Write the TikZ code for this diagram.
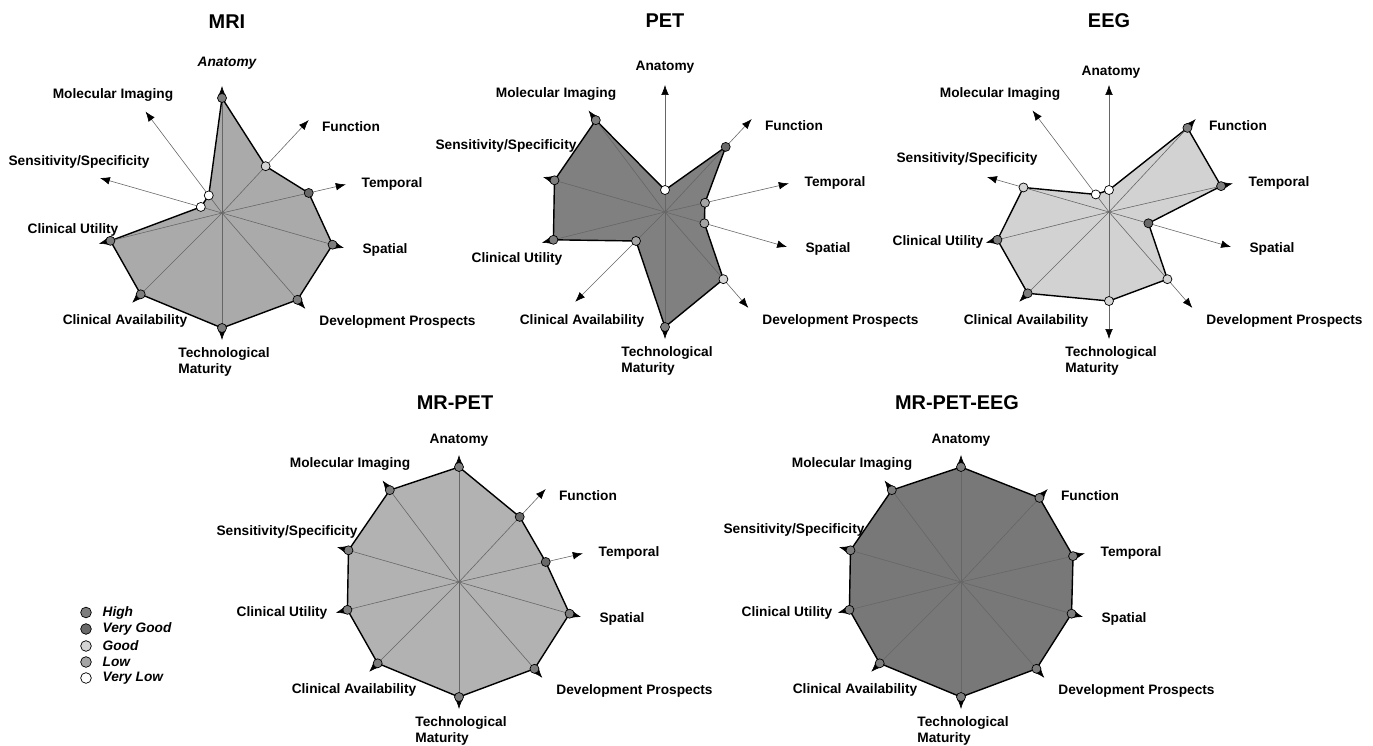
\documentclass[tikz,border=0pt]{standalone}
\usepackage{fontspec}
\setmainfont{Liberation Sans}
\usetikzlibrary{arrows.meta}
\definecolor{lvl1}{RGB}{255,255,255}
\definecolor{lvl2}{RGB}{165,165,165}
\definecolor{lvl3}{RGB}{212,212,212}
\definecolor{lvl4}{RGB}{105,105,105}
\definecolor{lvl5}{RGB}{125,125,125}
\definecolor{mrigray}{RGB}{170,170,170}
\definecolor{petgray}{RGB}{128,128,128}
\definecolor{eeggray}{RGB}{210,210,210}
\definecolor{mrpetgray}{RGB}{178,178,178}
\definecolor{hybridgray}{RGB}{120,120,120}

\begin{document}
\begin{tikzpicture}[x=0.03cm,y=0.03cm,
 lbl/.style={font=\fontsize{11.7}{14}\selectfont\bfseries},
 ttl/.style={font=\fontsize{17}{20}\selectfont\bfseries},
 axis/.style={black!60,line width=.5pt,-{Latex[length=8.5pt,width=6.5pt,color=black]}},
 poly/.style={draw=black,line width=1.2pt,line join=round},
 dot/.style={circle,draw=black,line width=.6pt,inner sep=0pt,minimum size=2.7mm}]
\useasboundingbox (0,0) rectangle (1373,745);
% charts: name/centre/fill/{radius level/dot level}, axes from Anatomy clockwise
\foreach \nm/\cx/\cy/\fc/\vals in {%
 mri/222/532/mrigray/{5/5,3/3,4/4,5/5,5/5,5/5,5/5,5/5,1/1,1/1},%
 pet/665/533/petgray/{1/1,4/4,2/2,2/2,4/3,5/5,2/2,5/5,5/5,5/5},%
 eeg/1109/533/eeggray/{1/1,5/5,5/5,2/4,4/3,4/3,5/5,5/5,4/3,1/1},%
 mrpet/459/163/mrpetgray/{5/5,4/4,4/4,5/5,5/5,5/5,5/5,5/5,5/5,5/5},%
 mrpeteeg/961/163/hybridgray/{5/5,5/5,5/5,5/5,5/5,5/5,5/5,5/5,5/5,5/5}}{
\begin{scope}[shift={(\cx,\cy)}]
\coordinate (\nm-c) at (0,0);
\foreach \v/\m [count=\i] in \vals {
 \pgfmathsetmacro\ang{{90,47,13,-16,-49,-90,-135,194,164,127}[\i-1]}
 \pgfmathsetmacro\rad{{0,22,41,64,89,115}[\v]}
 \coordinate (\nm-t\i) at (\ang:127);
 \coordinate (\nm-v\i) at (\ang:\rad);}
\filldraw[poly,fill=\fc] (\nm-v1) \foreach \i in {2,...,10}{--(\nm-v\i)} --cycle;
\foreach \i in {1,...,10} \draw[axis] (\nm-c)--(\nm-t\i);
\foreach \v/\m [count=\i] in \vals \node[dot,fill=lvl\m] (\nm-p\i) at (\nm-v\i) {};
\foreach \k/\dx/\dy/\txt in {fun/129/86/Function,tem/170/29.5/Temporal,spa/163/-37/Spatial,%
 dev/175.5/-108.5/Development Prospects,mol/-109/118/Molecular Imaging}
 \node[lbl] (\nm-\k) at (\dx,\dy) {\txt};
\node[lbl,align=left] (\nm-tec) at (2,-149) {Technological\\Maturity};
\end{scope}}
% titles and the labels that sit differently in each chart
\node[ttl] (mri-title) at (227,723) {MRI};
\node[lbl,font=\fontsize{11.7}{14}\selectfont\bfseries\itshape] (mri-ana) at (227,682) {Anatomy};
\node[lbl] (mri-sen) at (79,583) {Sensitivity/Specificity};
\node[lbl] (mri-cut) at (73,515) {Clinical Utility};
\node[lbl] (mri-cav) at (125,424) {Clinical Availability};
\node[ttl] (pet-title) at (665,724) {PET};
\node[lbl] (pet-ana) at (665,678) {Anatomy};
\node[lbl] (pet-sen) at (506,599) {Sensitivity/Specificity};
\node[lbl] (pet-cut) at (517,486) {Clinical Utility};
\node[lbl] (pet-cav) at (582,424) {Clinical Availability};
\node[ttl] (eeg-title) at (1109,724) {EEG};
\node[lbl] (eeg-ana) at (1111,673) {Anatomy};
\node[lbl] (eeg-sen) at (967,586) {Sensitivity/Specificity};
\node[lbl] (eeg-cut) at (938,503) {Clinical Utility};
\node[lbl] (eeg-cav) at (1026,424) {Clinical Availability};
\node[ttl] (mrpet-title) at (455,342) {MR-PET};
\node[lbl] (mrpet-ana) at (459,305) {Anatomy};
\node[lbl] (mrpet-sen) at (287,213) {Sensitivity/Specificity};
\node[lbl] (mrpet-cut) at (282,132) {Clinical Utility};
\node[lbl] (mrpet-cav) at (354,55) {Clinical Availability};
\node[ttl] (mrpeteeg-title) at (957,342) {MR-PET-EEG};
\node[lbl] (mrpeteeg-ana) at (961,305) {Anatomy};
\node[lbl] (mrpeteeg-sen) at (794,215) {Sensitivity/Specificity};
\node[lbl] (mrpeteeg-cut) at (787,132) {Clinical Utility};
\node[lbl] (mrpeteeg-cav) at (855,55) {Clinical Availability};
% key
\foreach \m/\y/\txt in {5/132.5/High,4/116/Very Good,3/99/Good,2/83/Low,1/67/Very Low}{
 \node[dot,fill=lvl\m,minimum size=3.2mm] (key\m) at (86,\y) {};
 \node[lbl,font=\fontsize{11.7}{14}\selectfont\bfseries\itshape,anchor=west] (key\m-txt) at (98.5,\y) {\txt};}
\end{tikzpicture}
\end{document}
